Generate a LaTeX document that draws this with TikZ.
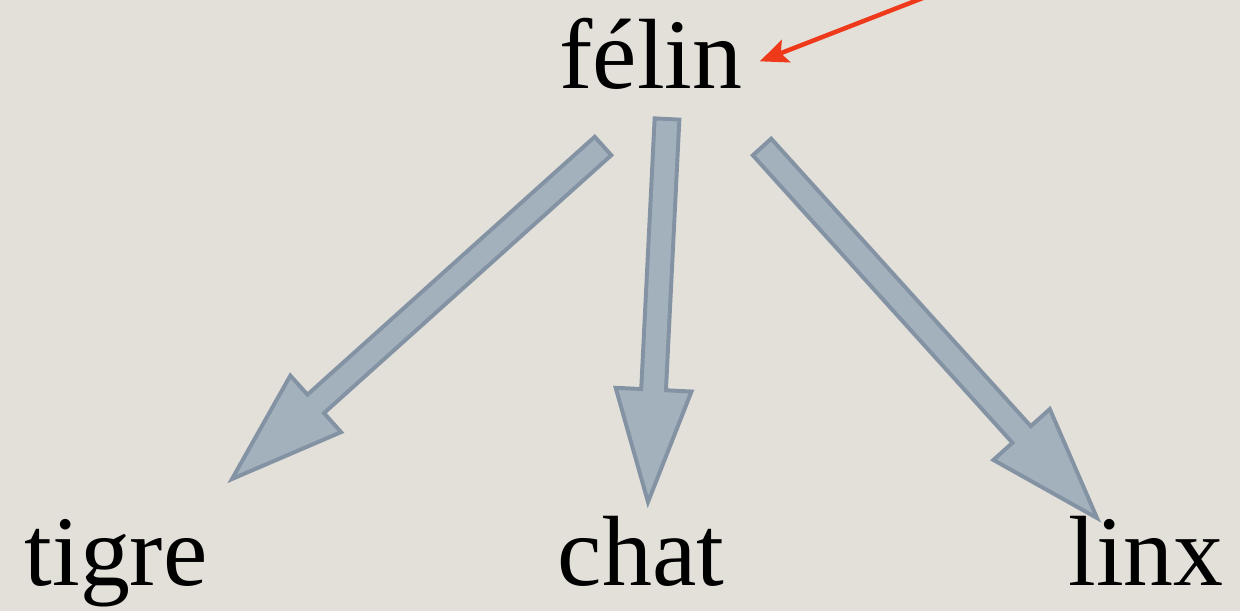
\documentclass[tikz,border=0pt]{standalone}
\usepackage{fontspec}
\setmainfont{Liberation Serif}
\usepackage{tikz}
\usetikzlibrary{calc}
\usetikzlibrary{arrows.meta}

\definecolor{paper}{HTML}{E3E0DA}
\definecolor{slatefill}{HTML}{A3B1BD}
\definecolor{slateline}{HTML}{8393A4}
\definecolor{pointer}{HTML}{EE3A1A}

\tikzset{
  word/.style={inner sep=0pt, anchor=base, font=\fontsize{71}{80}\selectfont},
  bigarrow/.style={fill=slatefill, draw=slateline, line width=2.8pt, line join=miter},
  redarrow/.style={draw=pointer, line width=3.2pt, -{Stealth[length=20pt,width=17pt,inset=4pt]}}
}

% fat arrow from #1 to #2
\newcommand\slatearrow[2]{
  \draw [bigarrow] ($(#1)!8.8pt!-90:(#2)$)
    -- ($(#2)!80pt!(#1)!8.8pt!90:(#1)$)
    -- ($(#2)!80pt!(#1)!27pt!90:(#1)$)
    -- (#2)
    -- ($(#2)!80pt!(#1)!27pt!-90:(#1)$)
    -- ($(#2)!80pt!(#1)!8.8pt!-90:(#1)$)
    -- ($(#1)!8.8pt!90:(#2)$) -- cycle;
}

\begin{document}
\begin{tikzpicture}[x=0.025cm, y=-0.025cm]
  \fill [paper] (0,0) rectangle (1240,611);
  \useasboundingbox (0,0) rectangle (1240,611);
  \clip (0,0) rectangle (1240,611);

  \node [word] (felin) at (651,88) {félin};
  \node [word] (tigre) at (116,585) {tigre};
  \node [word] (chat) at (641,585) {chat};
  \node [word] (linx) at (1146,585) {linx};

  \coordinate (felin-l) at (603,146);
  \coordinate (felin-m) at (667,119);
  \coordinate (felin-r) at (762,147);
  \coordinate (tigre-in) at (232,479);
  \coordinate (chat-in) at (648,502);
  \coordinate (linx-in) at (1097,518);

  \slatearrow{felin-l}{tigre-in}
  \slatearrow{felin-m}{chat-in}
  \slatearrow{felin-r}{linx-in}

  \coordinate (redtail) at (928,-4);
  \draw [redarrow] (redtail) -- ($(felin.east)+(17,8)$);
\end{tikzpicture}
\end{document}
